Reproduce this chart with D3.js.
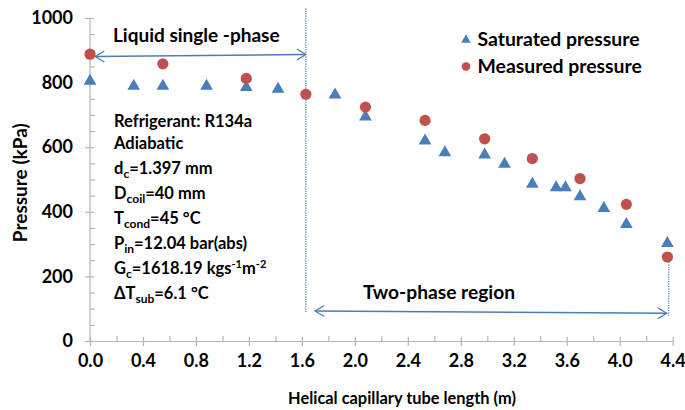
<!DOCTYPE html>
<head>
    <meta charset="UTF-8">
    <title>Pressure along helical capillary tube</title>
</head>
<style>
    body { margin: 0; background: #fff; }
    svg text { font-family: Lato, "Open Sans", sans-serif; font-weight: bold; fill: #000; }
    .axis .domain, .axis line { stroke: #b5b5b5; stroke-width: 1.2; }
    .axis text { font-size: 18px; }
</style>
<body>
<script src="https://cdn.jsdelivr.net/npm/d3@7/dist/d3.min.js"></script>
<script>
    // values
    var satLength = [0, 0.33, 0.55, 0.88, 1.18, 1.42, 1.85, 2.08, 2.53, 2.68, 2.98, 3.13, 3.34, 3.52, 3.59, 3.70, 3.88, 4.05, 4.36];
    var satPressure = [805, 789, 789, 789, 785, 780, 762, 694, 620, 583, 576, 548, 486, 475, 475, 447, 411, 361, 302];
    var measLength = [0, 0.55, 1.18, 1.63, 2.08, 2.53, 2.98, 3.34, 3.70, 4.05, 4.36];
    var measPressure = [888, 858, 813, 764, 724, 683, 626, 565, 503, 423, 260];
    var xTicks = [0, 0.4, 0.8, 1.2, 1.6, 2.0, 2.4, 2.8, 3.2, 3.6, 4.0, 4.4];
    var yTicks = [0, 200, 400, 600, 800, 1000];
    var legendLabels = ["Saturated pressure", "Measured pressure"];
    // notes: [text, kind] pieces, kind is "", "sub" or "sup"
    var notes = [
        [["Refrigerant: R134a", ""]],
        [["Adiabatic", ""]],
        [["d", ""], ["c", "sub"], ["=1.397 mm", ""]],
        [["D", ""], ["coil", "sub"], ["=40 mm", ""]],
        [["T", ""], ["cond", "sub"], ["=45 °C", ""]],
        [["P", ""], ["in", "sub"], ["=12.04 bar(abs)", ""]],
        [["G", ""], ["c", "sub"], ["=1618.19 kgs", ""], ["-1", "sup"], ["m", ""], ["-2", "sup"]],
        [["ΔT", ""], ["sub", "sub"], ["=6.1 °C", ""]]
    ];
    var boundary = 1.63, tubeEnd = 4.37;

    var width = 685, height = 410;
    var blue = "#4a7ebb", red = "#c0504d";

    var x = d3.scaleLinear().domain([0, 4.4]).range([90, 672.7]);
    var y = d3.scaleLinear().domain([0, 1000]).range([341, 18]);

    var svg = d3.select("body").append("svg")
        .attr("width", width)
        .attr("height", height);

    // minor ticks first, majors on top
    svg.append("g")
        .attr("class", "axis")
        .attr("transform", "translate(0," + y(0) + ")")
        .call(d3.axisTop(x).tickValues(d3.range(0.2, 4.4, 0.4)).tickSize(5).tickFormat(""))
        .select(".domain").remove();
    svg.append("g")
        .attr("class", "axis")
        .attr("transform", "translate(" + x(0) + ",0)")
        .call(d3.axisRight(y).tickValues(d3.range(50, 1000, 50).filter(function(d) { return d % 200; })).tickSize(5).tickFormat(""))
        .select(".domain").remove();

    var xAxis = svg.append("g")
        .attr("class", "axis")
        .attr("transform", "translate(0," + y(0) + ")")
        .call(d3.axisBottom(x).tickValues(xTicks).tickSize(5).tickSizeOuter(0).tickPadding(8)
            .tickFormat(d3.format(".1f")));
    xAxis.selectAll(".tick line").attr("y1", -4);

    var yAxis = svg.append("g")
        .attr("class", "axis")
        .attr("transform", "translate(" + x(0) + ",0)")
        .call(d3.axisLeft(y).tickValues(yTicks).tickSize(5).tickSizeOuter(0).tickPadding(12)
            .tickFormat(d3.format("d")));
    yAxis.selectAll(".tick line").attr("x1", 4);
    yAxis.select(".domain").attr("d", "M0," + y(0) + "V" + y(1000));

    svg.append("text")
        .attr("x", 402)
        .attr("y", 404)
        .attr("text-anchor", "middle")
        .style("font-size", "16.4px")
        .text("Helical capillary tube length (m)");
    svg.append("text")
        .attr("transform", "translate(27," + y(490) + ") rotate(-90)")
        .attr("text-anchor", "middle")
        .style("font-size", "19px")
        .text("Pressure (kPa)");

    // phase boundary guides
    var guide = svg.append("g")
        .attr("stroke", blue)
        .attr("stroke-width", 1.2)
        .attr("stroke-dasharray", "1.2,1.2")
        .attr("fill", "none");
    guide.append("line")
        .attr("x1", x(boundary)).attr("x2", x(boundary))
        .attr("y1", y(1030)).attr("y2", y(88));
    guide.append("line")
        .attr("x1", x(tubeEnd)).attr("x2", x(tubeEnd))
        .attr("y1", y(245)).attr("y2", y(77));

    function arrowHead(g, px, py, dir) {
        g.append("path")
            .attr("d", "M" + (px - dir * 9) + "," + (py - 5.5) + "L" + px + "," + py + "L" + (px - dir * 9) + "," + (py + 5.5))
            .attr("fill", "none")
            .attr("stroke", blue)
            .attr("stroke-width", 1.3);
    }
    var arrows = svg.append("g");
    var a1 = [x(0.04), y(881), x(boundary), y(887)];
    arrows.append("line")
        .attr("x1", a1[0]).attr("y1", a1[1]).attr("x2", a1[2]).attr("y2", a1[3])
        .attr("stroke", blue).attr("stroke-width", 1.5);
    arrowHead(arrows, a1[0], a1[1], -1);
    arrowHead(arrows, a1[2], a1[3], 1);
    var a2 = [x(1.70), y(93), x(4.355), y(86)];
    arrows.append("line")
        .attr("x1", a2[0]).attr("y1", a2[1]).attr("x2", a2[2]).attr("y2", a2[3])
        .attr("stroke", blue).attr("stroke-width", 1.5);
    arrowHead(arrows, a2[0], a2[1], -1);
    arrowHead(arrows, a2[2], a2[3], 1);

    svg.append("text")
        .attr("x", 113).attr("y", 41.5)
        .style("font-size", "19px")
        .text("Liquid single -phase");
    svg.append("text")
        .attr("x", 363).attr("y", 298.5)
        .style("font-size", "19.2px")
        .text("Two-phase region");

    // notes block
    var noteBase = [127, 149, 173.5, 198.5, 223.5, 248.5, 273.5, 299];
    var noteText = svg.append("g").style("font-size", "16.5px");
    notes.forEach(function(line, i) {
        var t = noteText.append("text")
            .attr("x", 114)
            .attr("y", noteBase[i]);
        var shift = 0;
        line.forEach(function(piece) {
            var s = t.append("tspan").text(piece[0]);
            var want = piece[1] === "sub" ? 4 : piece[1] === "sup" ? -6 : 0;
            if (want !== shift) s.attr("dy", want - shift);
            shift = want;
            if (piece[1] === "sub") s.style("font-size", "12px");
            else if (piece[1] === "sup") s.style("font-size", "11px");
        });
    });

    // markers
    var tri = d3.symbol().type(d3.symbolTriangle).size(70);
    svg.append("g")
        .selectAll("path")
        .data(satLength)
        .join("path")
        .attr("d", tri)
        .attr("transform", function(d, i) { return "translate(" + x(d) + "," + y(satPressure[i]) + ")"; })
        .attr("fill", blue);
    svg.append("g")
        .selectAll("circle")
        .data(measLength)
        .join("circle")
        .attr("cx", function(d) { return x(d); })
        .attr("cy", function(d, i) { return y(measPressure[i]); })
        .attr("r", 5.6)
        .attr("fill", red);

    // legend
    var legend = svg.append("g").attr("transform", "translate(466,40)");
    legend.append("path")
        .attr("d", d3.symbol().type(d3.symbolTriangle).size(40))
        .attr("fill", blue);
    legend.append("circle")
        .attr("cy", 26.5).attr("r", 4.3)
        .attr("fill", red);
    legend.selectAll("text")
        .data(legendLabels)
        .join("text")
        .attr("x", 11.5)
        .attr("y", function(d, i) { return 6 + i * 26.5; })
        .style("font-size", "19.4px")
        .text(function(d) { return d; });
</script>
</body>
